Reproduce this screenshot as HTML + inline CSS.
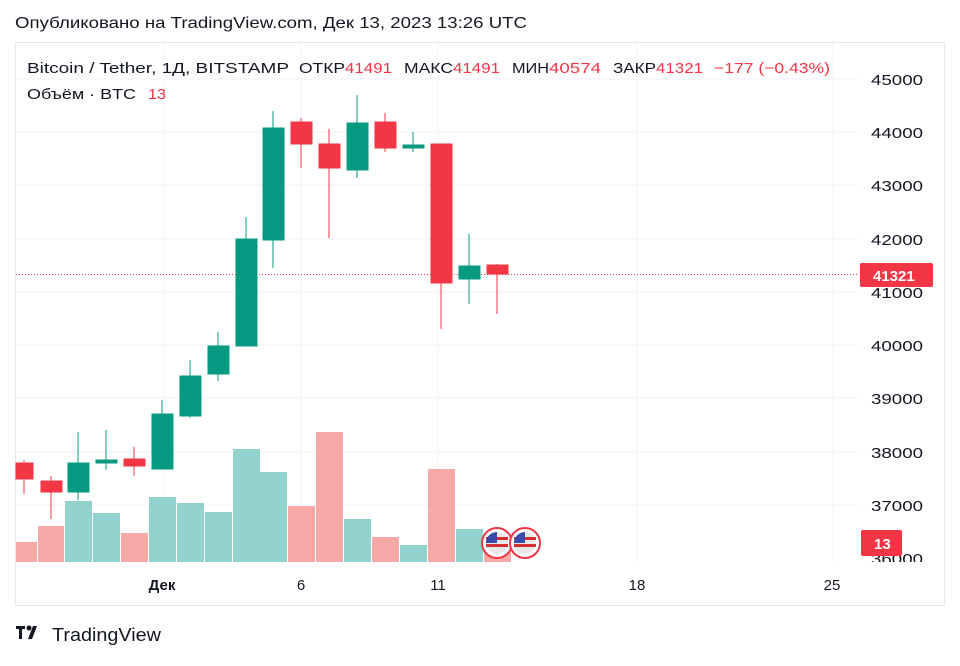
<!DOCTYPE html>
<html><head><meta charset="utf-8"><style>
body{margin:0;background:#fff;width:960px;height:661px;overflow:hidden;font-family:"Liberation Sans",sans-serif}
</style></head><body>
<svg width="960" height="661" xmlns="http://www.w3.org/2000/svg" font-family="Liberation Sans, sans-serif">
<text x="15" y="28" font-size="16" fill="#131722" textLength="512" lengthAdjust="spacingAndGlyphs">Опубликовано на TradingView.com, Дек 13, 2023 13:26 UTC</text>
<rect x="15.5" y="42.5" width="929" height="563" fill="#fff" stroke="#e6e8ee"/>
<g stroke="#f0f3fa" stroke-width="1">
<line x1="16" x2="858" y1="79" y2="79"/><line x1="16" x2="858" y1="132" y2="132"/><line x1="16" x2="858" y1="185" y2="185"/><line x1="16" x2="858" y1="239" y2="239"/><line x1="16" x2="858" y1="292" y2="292"/><line x1="16" x2="858" y1="345" y2="345"/><line x1="16" x2="858" y1="398" y2="398"/><line x1="16" x2="858" y1="452" y2="452"/><line x1="16" x2="858" y1="505" y2="505"/>
<line x1="164" x2="164" y1="43" y2="562"/><line x1="301" x2="301" y1="43" y2="562"/><line x1="438" x2="438" y1="43" y2="562"/><line x1="637" x2="637" y1="43" y2="562"/><line x1="833" x2="833" y1="43" y2="562"/>
</g>
<g>
<rect x="16" y="542" width="21" height="20" fill="#f7a9a7"/>
<rect x="38" y="526" width="26" height="36" fill="#f7a9a7"/>
<rect x="65" y="501" width="27" height="61" fill="#92d2cc"/>
<rect x="93" y="513" width="27" height="49" fill="#92d2cc"/>
<rect x="121" y="533" width="27" height="29" fill="#f7a9a7"/>
<rect x="149" y="497" width="27" height="65" fill="#92d2cc"/>
<rect x="177" y="503" width="27" height="59" fill="#92d2cc"/>
<rect x="205" y="512" width="27" height="50" fill="#92d2cc"/>
<rect x="233" y="449" width="27" height="113" fill="#92d2cc"/>
<rect x="260" y="472" width="27" height="90" fill="#92d2cc"/>
<rect x="288" y="506" width="27" height="56" fill="#f7a9a7"/>
<rect x="316" y="432" width="27" height="130" fill="#f7a9a7"/>
<rect x="344" y="519" width="27" height="43" fill="#92d2cc"/>
<rect x="372" y="537" width="27" height="25" fill="#f7a9a7"/>
<rect x="400" y="545" width="27" height="17" fill="#92d2cc"/>
<rect x="428" y="469" width="27" height="93" fill="#f7a9a7"/>
<rect x="456" y="529" width="27" height="33" fill="#92d2cc"/>
<rect x="484" y="550" width="27" height="12" fill="#f7a9a7"/>
</g>
<line x1="16" x2="858" y1="274.5" y2="274.5" stroke="#f23645" stroke-dasharray="1,2"/>
<g stroke-width="1">
<g fill="#f23645" stroke="#f23645">
<line x1="24" x2="24" y1="460" y2="494"/><rect x="16" y="463" width="17" height="16"/>
<line x1="51" x2="51" y1="476" y2="519"/><rect x="41" y="481" width="21" height="11"/>
<line x1="134" x2="134" y1="447" y2="476"/><rect x="124" y="459" width="21" height="7"/>
<line x1="301" x2="301" y1="118" y2="168"/><rect x="291" y="122" width="21" height="22"/>
<line x1="329" x2="329" y1="129" y2="238"/><rect x="319" y="144" width="21" height="24"/>
<line x1="385" x2="385" y1="113" y2="152"/><rect x="375" y="122" width="21" height="26"/>
<line x1="441" x2="441" y1="144" y2="329"/><rect x="431" y="144" width="21" height="139"/>
<line x1="497" x2="497" y1="264" y2="314"/><rect x="487" y="265" width="21" height="9"/>
</g>
<g fill="#089981" stroke="#089981">
<line x1="78" x2="78" y1="432" y2="500"/><rect x="68" y="463" width="21" height="29"/>
<line x1="106" x2="106" y1="430" y2="470"/><rect x="96" y="460" width="21" height="3"/>
<line x1="162" x2="162" y1="400" y2="469"/><rect x="152" y="414" width="21" height="55"/>
<line x1="190" x2="190" y1="360" y2="418"/><rect x="180" y="376" width="21" height="40"/>
<line x1="218" x2="218" y1="332" y2="381"/><rect x="208" y="346" width="21" height="28"/>
<line x1="246" x2="246" y1="217" y2="346"/><rect x="236" y="239" width="21" height="107"/>
<line x1="273" x2="273" y1="111" y2="268"/><rect x="263" y="128" width="21" height="112"/>
<line x1="357" x2="357" y1="95" y2="178"/><rect x="347" y="123" width="21" height="47"/>
<line x1="413" x2="413" y1="132" y2="152"/><rect x="403" y="145" width="21" height="3"/>
<line x1="469" x2="469" y1="234" y2="304"/><rect x="459" y="266" width="21" height="13"/>
</g>
</g>
<g>
<circle cx="497" cy="543" r="15" fill="#fff" stroke="#f23645" stroke-width="2"/>
<circle cx="497" cy="543" r="11" fill="#e8e8e8"/><rect x="486" y="537" width="22" height="3" fill="#d32f2f"/><rect x="486" y="544" width="22" height="3" fill="#d32f2f"/><path d="M486 543 A11 11 0 0 1 497 532 L497 543Z" fill="#3949ab"/>
<circle cx="525" cy="543" r="15" fill="#fff" stroke="#f23645" stroke-width="2"/>
<circle cx="525" cy="543" r="11" fill="#e8e8e8"/><rect x="514" y="537" width="22" height="3" fill="#d32f2f"/><rect x="514" y="544" width="22" height="3" fill="#d32f2f"/><path d="M514 543 A11 11 0 0 1 525 532 L525 543Z" fill="#3949ab"/>
</g>
<g font-size="15" fill="#131722" lengthAdjust="spacingAndGlyphs">
<text x="27" y="73" textLength="262" lengthAdjust="spacingAndGlyphs">Bitcoin / Tether, 1Д, BITSTAMP</text>
<text x="299" y="73" textLength="46" lengthAdjust="spacingAndGlyphs">ОТКР</text>
<text x="345" y="73" fill="#f23645" textLength="47" lengthAdjust="spacingAndGlyphs">41491</text>
<text x="404" y="73" textLength="49" lengthAdjust="spacingAndGlyphs">МАКС</text>
<text x="453" y="73" fill="#f23645" textLength="47" lengthAdjust="spacingAndGlyphs">41491</text>
<text x="512" y="73" textLength="37" lengthAdjust="spacingAndGlyphs">МИН</text>
<text x="549" y="73" fill="#f23645" textLength="52" lengthAdjust="spacingAndGlyphs">40574</text>
<text x="613" y="73" textLength="43" lengthAdjust="spacingAndGlyphs">ЗАКР</text>
<text x="656" y="73" fill="#f23645" textLength="47" lengthAdjust="spacingAndGlyphs">41321</text>
<text x="714" y="73" fill="#f23645" textLength="116" lengthAdjust="spacingAndGlyphs">−177 (−0.43%)</text>
<text x="27" y="99" textLength="109" lengthAdjust="spacingAndGlyphs">Объём · BTC</text>
<text x="148" y="99" fill="#f23645" textLength="18" lengthAdjust="spacingAndGlyphs">13</text>
</g>
<g font-size="15" fill="#131722">
<text x="871" y="85" textLength="52" lengthAdjust="spacingAndGlyphs">45000</text><text x="871" y="138" textLength="52" lengthAdjust="spacingAndGlyphs">44000</text><text x="871" y="191" textLength="52" lengthAdjust="spacingAndGlyphs">43000</text><text x="871" y="245" textLength="52" lengthAdjust="spacingAndGlyphs">42000</text><text x="871" y="298" textLength="52" lengthAdjust="spacingAndGlyphs">41000</text><text x="871" y="351" textLength="52" lengthAdjust="spacingAndGlyphs">40000</text><text x="871" y="404" textLength="52" lengthAdjust="spacingAndGlyphs">39000</text><text x="871" y="458" textLength="52" lengthAdjust="spacingAndGlyphs">38000</text><text x="871" y="511" textLength="52" lengthAdjust="spacingAndGlyphs">37000</text>
</g>
<svg x="860" y="540" width="80" height="22"><text x="11" y="24" font-size="15" fill="#131722" textLength="52" lengthAdjust="spacingAndGlyphs">36000</text></svg>
<rect x="860" y="263" width="73" height="24" rx="2" fill="#f23645"/>
<text x="873" y="281" font-size="15" fill="#fff" font-weight="bold">41321</text>
<rect x="861" y="530" width="41" height="26" rx="2" fill="#f23645"/>
<text x="874" y="549" font-size="15" fill="#fff" font-weight="bold">13</text>
<g font-size="15" fill="#131722" text-anchor="middle">
<text x="162" y="590" font-weight="bold">Дек</text><text x="301" y="590">6</text><text x="438" y="590">11</text><text x="637" y="590">18</text><text x="832" y="590">25</text>
</g>
<g fill="#131722"><rect x="16" y="626" width="9" height="3"/><rect x="19" y="626" width="3" height="13"/><circle cx="29" cy="628" r="2.5"/><path d="M33 626 L37 626 L32 639 L28 639Z"/></g>
<text x="52" y="641" font-size="18" fill="#131722" textLength="109" lengthAdjust="spacingAndGlyphs">TradingView</text>
</svg>
</body></html>
